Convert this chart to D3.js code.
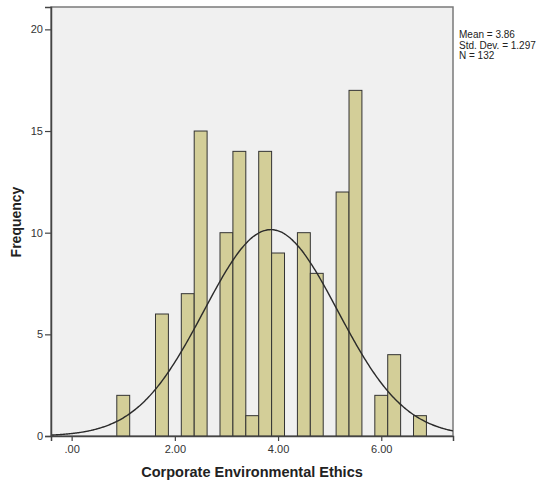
<!DOCTYPE html>
<html>
<head>
<meta charset="utf-8">
<script src="https://cdn.jsdelivr.net/npm/d3@7"></script>
<style>
  html, body { margin: 0; padding: 0; background: #ffffff; }
  svg { display: block; font-family: "Liberation Sans", Arial, sans-serif; }
</style>
</head>
<body>
<svg id="chart" width="542" height="483"></svg>
<script>
// Histogram bins (centre of each 0.25-wide bin) and their frequencies
const binCenters = [1.00, 1.75, 2.25, 2.50, 3.00, 3.25, 3.50, 3.75, 4.00, 4.50, 4.75, 5.25, 5.50, 6.00, 6.25, 6.75];
const frequencies = [2, 6, 7, 15, 10, 14, 1, 14, 9, 10, 8, 12, 17, 2, 4, 1];
const binWidth = 0.25;

const xTicks = [0, 2, 4, 6];
const yTicks = [0, 5, 10, 15, 20];

const stats = { mean: 3.86, sd: 1.297, n: 132 };
const legendLines = ["Mean = 3.86", "Std. Dev. = 1.297", "N = 132"];

const svg = d3.select("#chart");
const plot = { left: 51, right: 453, top: 7, bottom: 436 };

const x = d3.scaleLinear().domain([-0.4, 7.39]).range([plot.left, plot.right]);
const y = d3.scaleLinear().domain([0, 21.1]).range([plot.bottom, plot.top]);

// plot background and frame
svg.append("rect")
  .attr("x", plot.left).attr("y", plot.top)
  .attr("width", plot.right - plot.left).attr("height", plot.bottom - plot.top)
  .attr("fill", "#f0f0f0")
  .attr("stroke", "#7a7a7a")
  .attr("stroke-width", 1.5);

svg.append("clipPath").attr("id", "plotClip")
  .append("rect")
  .attr("x", plot.left).attr("y", plot.top)
  .attr("width", plot.right - plot.left).attr("height", plot.bottom - plot.top);

// bars
svg.append("g")
  .selectAll("rect")
  .data(binCenters.map((c, i) => ({ c, f: frequencies[i] })))
  .join("rect")
  .attr("x", d => x(d.c - binWidth / 2))
  .attr("width", d => x(d.c + binWidth / 2) - x(d.c - binWidth / 2))
  .attr("y", d => y(d.f))
  .attr("height", d => y(0) - y(d.f))
  .attr("fill", "#d3ce98")
  .attr("stroke", "#333333")
  .attr("stroke-width", 1);

// fitted normal curve scaled to counts
const scaleFactor = stats.n * binWidth;
const normal = v => scaleFactor / (stats.sd * Math.sqrt(2 * Math.PI)) *
  Math.exp(-0.5 * Math.pow((v - stats.mean) / stats.sd, 2));
const curvePts = d3.range(0, 301).map(i => {
  const v = x.domain()[0] + (x.domain()[1] - x.domain()[0]) * i / 300;
  return [v, normal(v)];
});
svg.append("path")
  .datum(curvePts)
  .attr("clip-path", "url(#plotClip)")
  .attr("fill", "none")
  .attr("stroke", "#2b2b2b")
  .attr("stroke-width", 1.4)
  .attr("d", d3.line().x(d => x(d[0])).y(d => y(d[1])).curve(d3.curveBasis));

// axes
const xAxis = svg.append("g")
  .attr("transform", `translate(0,${plot.bottom})`)
  .call(d3.axisBottom(x).tickValues(xTicks).tickFormat(d => d === 0 ? ".00" : d3.format(".2f")(d))
    .tickSizeOuter(0).tickSize(5).tickPadding(4));
const yAxis = svg.append("g")
  .attr("transform", `translate(${plot.left},0)`)
  .call(d3.axisLeft(y).tickValues(yTicks).tickSizeOuter(0).tickSize(6).tickPadding(2));

[xAxis, yAxis].forEach(g => {
  g.select(".domain").attr("stroke", "#444").attr("stroke-width", 1.5);
  g.selectAll(".tick line").attr("stroke", "#444").attr("stroke-width", 1.2);
  g.selectAll(".tick text").attr("fill", "#333").attr("font-size", 11)
    .attr("font-family", "'Liberation Sans', Arial, sans-serif");
});

// axis titles
svg.append("text")
  .attr("x", 252).attr("y", 477)
  .attr("text-anchor", "middle")
  .attr("font-size", 14.5).attr("font-weight", "bold").attr("fill", "#222")
  .text("Corporate Environmental Ethics");

svg.append("text")
  .attr("transform", "translate(21,222) rotate(-90)")
  .attr("text-anchor", "middle")
  .attr("font-size", 14).attr("font-weight", "bold").attr("fill", "#222")
  .text("Frequency");

// statistics legend
svg.append("g")
  .selectAll("text")
  .data(legendLines)
  .join("text")
  .attr("x", 459)
  .attr("y", (d, i) => 38 + i * 10.5)
  .attr("font-size", 10).attr("fill", "#222")
  .text(d => d);
</script>
</body>
</html>
